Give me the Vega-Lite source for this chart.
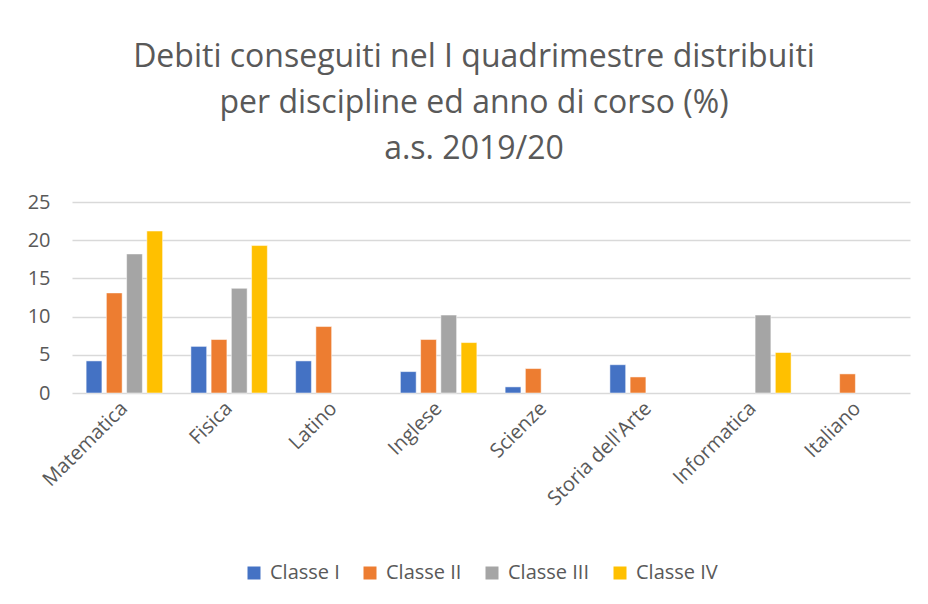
{
  "$schema": "https://vega.github.io/schema/vega-lite/v6.json",
  "autosize": {"type": "none"},
  "width": 838,
  "height": 191,
  "padding": {"left": 72, "top": 202, "right": 18, "bottom": 211},
  "background": "white",
  "config": {
    "font": "Open Sans",
    "view": {"stroke": null}
  },
  "title": {
    "text": ["Debiti conseguiti nel I quadrimestre distribuiti", "per discipline ed anno di corso (%)", "a.s. 2019/20"],
    "font": "Open Sans",
    "fontSize": 32,
    "fontWeight": "normal",
    "color": "#595959",
    "lineHeight": 46,
    "anchor": "middle",
    "offset": 26,
    "dx": -17
  },
  "data": {
    "values": [
      {"disciplina": "Matematica", "classe": "Classe I", "valore": 4.2},
      {"disciplina": "Matematica", "classe": "Classe II", "valore": 13.1},
      {"disciplina": "Matematica", "classe": "Classe III", "valore": 18.2},
      {"disciplina": "Matematica", "classe": "Classe IV", "valore": 21.2},
      {"disciplina": "Fisica", "classe": "Classe I", "valore": 6.1},
      {"disciplina": "Fisica", "classe": "Classe II", "valore": 7.0},
      {"disciplina": "Fisica", "classe": "Classe III", "valore": 13.7},
      {"disciplina": "Fisica", "classe": "Classe IV", "valore": 19.3},
      {"disciplina": "Latino", "classe": "Classe I", "valore": 4.2},
      {"disciplina": "Latino", "classe": "Classe II", "valore": 8.7},
      {"disciplina": "Inglese", "classe": "Classe I", "valore": 2.8},
      {"disciplina": "Inglese", "classe": "Classe II", "valore": 7.0},
      {"disciplina": "Inglese", "classe": "Classe III", "valore": 10.2},
      {"disciplina": "Inglese", "classe": "Classe IV", "valore": 6.6},
      {"disciplina": "Scienze", "classe": "Classe I", "valore": 0.8},
      {"disciplina": "Scienze", "classe": "Classe II", "valore": 3.2},
      {"disciplina": "Storia dell'Arte", "classe": "Classe I", "valore": 3.7},
      {"disciplina": "Storia dell'Arte", "classe": "Classe II", "valore": 2.1},
      {"disciplina": "Informatica", "classe": "Classe III", "valore": 10.2},
      {"disciplina": "Informatica", "classe": "Classe IV", "valore": 5.3},
      {"disciplina": "Italiano", "classe": "Classe II", "valore": 2.5}
    ]
  },
  "mark": {"type": "bar", "stroke": "white", "strokeWidth": 0.5},
  "encoding": {
    "x": {
      "field": "disciplina",
      "type": "nominal",
      "sort": ["Matematica", "Fisica", "Latino", "Inglese", "Scienze", "Storia dell'Arte", "Informatica", "Italiano"],
      "scale": {"paddingInner": 0.27, "paddingOuter": 0.135},
      "axis": {
        "title": null,
        "labelAngle": -45,
        "labelAlign": "right",
        "labelBaseline": "middle",
        "labelFontSize": 20,
        "labelColor": "#595959",
        "labelPadding": 12,
        "ticks": false,
        "domain": false,
        "grid": false
      }
    },
    "xOffset": {
      "field": "classe",
      "type": "nominal",
      "sort": ["Classe I", "Classe II", "Classe III", "Classe IV"],
      "scale": {"paddingInner": 0.22}
    },
    "y": {
      "field": "valore",
      "type": "quantitative",
      "scale": {"domain": [0, 25], "nice": false},
      "axis": {
        "title": null,
        "values": [0, 5, 10, 15, 20, 25],
        "labelFontSize": 20,
        "labelColor": "#595959",
        "labelPadding": 22,
        "ticks": false,
        "domain": false,
        "gridColor": "#d9d9d9",
        "gridWidth": 1.3
      }
    },
    "color": {
      "field": "classe",
      "type": "nominal",
      "sort": ["Classe I", "Classe II", "Classe III", "Classe IV"],
      "scale": {
        "domain": ["Classe I", "Classe II", "Classe III", "Classe IV"],
        "range": ["#4472C4", "#ED7D31", "#A5A5A5", "#FFC000"]
      },
      "legend": {
        "title": null,
        "orient": "none",
        "legendX": 172,
        "legendY": 361,
        "direction": "horizontal",
        "symbolType": "square",
        "symbolSize": 169,
        "symbolStrokeWidth": 0,
        "labelFontSize": 20,
        "labelColor": "#595959",
        "columnPadding": 20,
        "labelOffset": 6
      }
    }
  }
}
